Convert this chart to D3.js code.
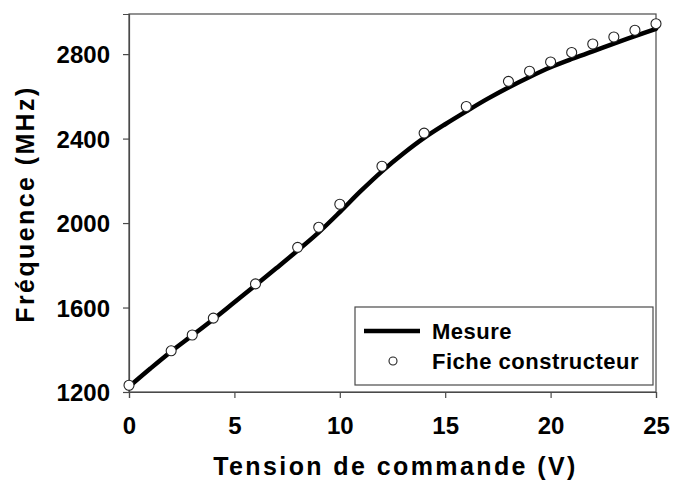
<!DOCTYPE html>
<html>
<head>
<meta charset="utf-8">
<script src="https://cdn.jsdelivr.net/npm/d3@7"></script>
<style>
  html, body { margin: 0; padding: 0; background: #fff; }
  svg { display: block; font-family: "Liberation Sans", Arial, sans-serif; }
</style>
</head>
<body>
<svg id="chart" width="673" height="485"></svg>
<script>
// Measured frequency vs. control voltage (solid curve)
const mesureV = [0, 1, 2, 3, 4, 5, 6, 7, 8, 9, 10, 11, 12, 13, 14, 15, 16, 17, 18, 19, 20, 21, 22, 23, 24, 25];
const mesureF = [1225, 1310, 1392, 1468, 1545, 1625, 1705, 1787, 1870, 1956, 2052, 2152, 2245, 2328, 2403, 2468, 2529, 2588, 2642, 2692, 2738, 2777, 2813, 2850, 2885, 2920];

// Datasheet values (open circles)
const ficheV = [0, 2, 3, 4, 6, 8, 9, 10, 12, 14, 16, 18, 19, 20, 21, 22, 23, 24, 25];
const ficheF = [1232, 1395, 1470, 1550, 1712, 1885, 1980, 2089, 2269, 2426, 2552, 2671, 2719, 2763, 2808, 2848, 2881, 2913, 2944];

const xTicks = [0, 5, 10, 15, 20, 25];
const yTicks = [1200, 1600, 2000, 2400, 2800];

const legendLabels = ["Mesure", "Fiche constructeur"];
const xTitle = "Tension de commande (V)";
const yTitle = "Fréquence (MHz)";

const svg = d3.select("#chart");
const plot = { left: 129, right: 656, top: 14, bottom: 392 };
const frameColor = "#4a4a4a";

const x = d3.scaleLinear().domain([0, 25]).range([plot.left, plot.right]);
const y = d3.scaleLinear().domain([1200, 2990]).range([plot.bottom, plot.top]);

// Plot frame
svg.append("rect")
  .attr("x", plot.left).attr("y", plot.top)
  .attr("width", plot.right - plot.left).attr("height", plot.bottom - plot.top)
  .attr("fill", "none").attr("stroke", frameColor).attr("stroke-width", 1.2);

// Axes
const xAxis = d3.axisBottom(x).tickValues(xTicks).tickSize(6).tickPadding(19).tickFormat(d3.format("d"));
const yAxis = d3.axisLeft(y).tickValues(yTicks).tickSize(6).tickPadding(13).tickFormat(d3.format("d"));

const gx = svg.append("g").attr("transform", `translate(0,${plot.bottom})`).call(xAxis);
const gy = svg.append("g").attr("transform", `translate(${plot.left},0)`).call(yAxis);

[gx, gy].forEach(g => {
  g.select(".domain").attr("stroke", frameColor).attr("stroke-width", 1.2);
  g.selectAll(".tick line").attr("stroke", frameColor).attr("stroke-width", 1.2);
  g.selectAll(".tick text")
    .attr("fill", "#000")
    .attr("font-family", "Liberation Sans, Arial, sans-serif")
    .attr("font-weight", "bold")
    .attr("font-size", 24);
});
gy.selectAll(".tick text").attr("dy", "0.36em");

// Measured curve
const line = d3.line()
  .x((d, i) => x(mesureV[i]))
  .y(d => y(d))
  .curve(d3.curveCatmullRom.alpha(0.5));

svg.append("path")
  .datum(mesureF)
  .attr("d", line)
  .attr("fill", "none")
  .attr("stroke", "#000")
  .attr("stroke-width", 4.5)
  .attr("stroke-linejoin", "round")
  .attr("stroke-linecap", "round");

// Datasheet points
svg.append("g").selectAll("circle")
  .data(ficheF)
  .join("circle")
  .attr("cx", (d, i) => x(ficheV[i]))
  .attr("cy", d => y(d))
  .attr("r", 5)
  .attr("fill", "#fff")
  .attr("stroke", "#222")
  .attr("stroke-width", 1.1);

// Legend
const lg = svg.append("g");
lg.append("rect")
  .attr("x", 355).attr("y", 307).attr("width", 298).attr("height", 78)
  .attr("fill", "#fff").attr("stroke", frameColor).attr("stroke-width", 1.2);
lg.append("line")
  .attr("x1", 364).attr("x2", 420).attr("y1", 331).attr("y2", 331)
  .attr("stroke", "#000").attr("stroke-width", 4.5);
lg.append("circle")
  .attr("cx", 393).attr("cy", 361).attr("r", 4)
  .attr("fill", "#fff").attr("stroke", "#222").attr("stroke-width", 1.1);
lg.selectAll("text")
  .data(legendLabels)
  .join("text")
  .attr("x", 432)
  .attr("y", (d, i) => 339 + i * 30)
  .attr("font-weight", "bold")
  .attr("font-size", 22)
  .attr("letter-spacing", 0.5)
  .attr("fill", "#000")
  .text(d => d);

// Axis titles
svg.append("text")
  .attr("x", (plot.left + plot.right) / 2 + 3)
  .attr("y", 475)
  .attr("text-anchor", "middle")
  .attr("font-weight", "bold")
  .attr("font-size", 25)
  .attr("letter-spacing", 2.4)
  .attr("fill", "#000")
  .text(xTitle);

svg.append("text")
  .attr("transform", "translate(34,204) rotate(-90)")
  .attr("text-anchor", "middle")
  .attr("font-weight", "bold")
  .attr("font-size", 25)
  .attr("letter-spacing", 2.4)
  .attr("fill", "#000")
  .text(yTitle);
</script>
</body>
</html>
